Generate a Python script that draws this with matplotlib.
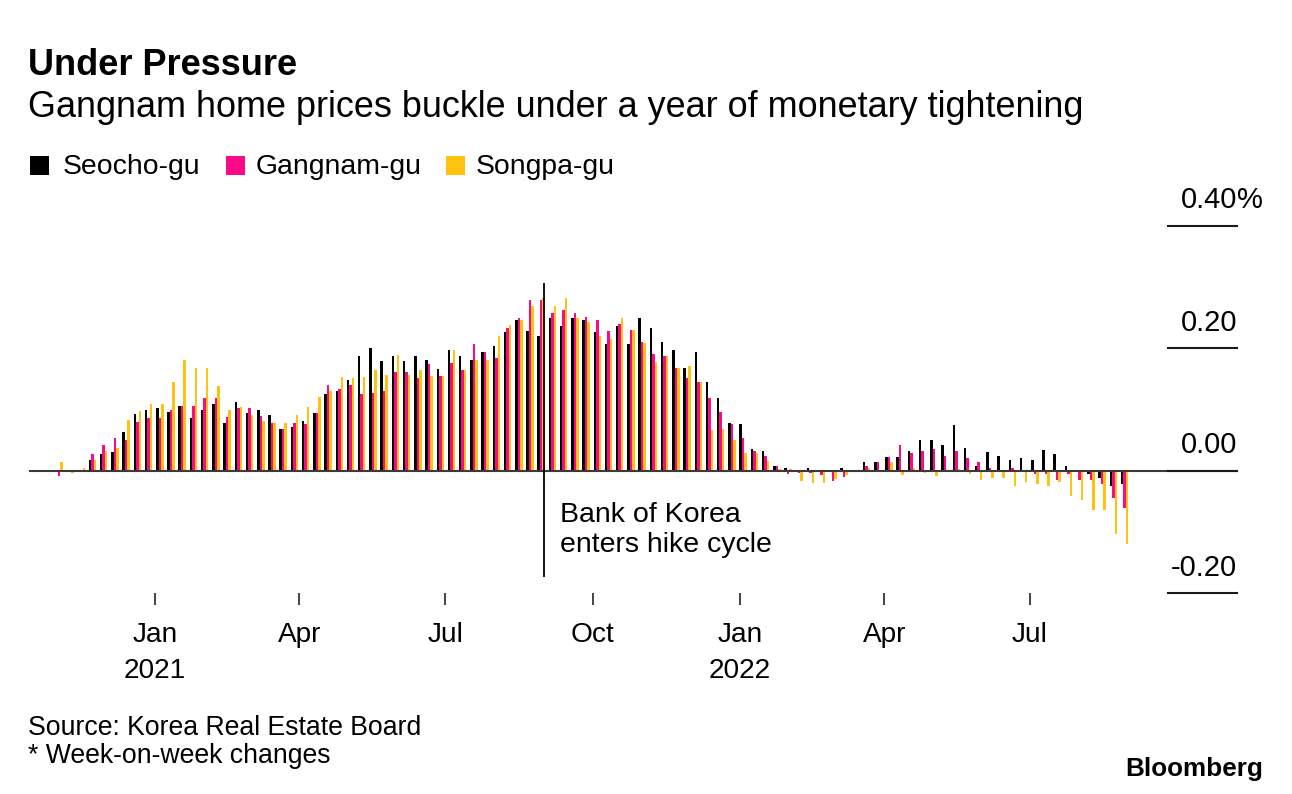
import matplotlib
matplotlib.use("Agg")
import matplotlib.pyplot as plt
import matplotlib.dates as mdates
import matplotlib.transforms as mtransforms
from matplotlib.patches import Rectangle
import pandas as pd
import datetime as dt

# ---------------- data ----------------
week_start = "2020-11-02"
n_weeks = 96

seocho = [0.000, 0.002, 0.002, 0.018, 0.027, 0.031, 0.063, 0.093, 0.099, 0.103,
          0.096, 0.106, 0.086, 0.099, 0.109, 0.079, 0.112, 0.095, 0.099, 0.092,
          0.069, 0.072, 0.082, 0.095, 0.125, 0.131, 0.148, 0.187, 0.200, 0.180,
          0.187, 0.180, 0.187, 0.181, 0.167, 0.197, 0.187, 0.181, 0.194, 0.204,
          0.227, 0.246, 0.229, 0.220, 0.249, 0.236, 0.249, 0.246, 0.227, 0.207,
          0.236, 0.207, 0.250, 0.233, 0.210, 0.197, 0.168, 0.194, 0.145, 0.119,
          0.079, 0.076, 0.036, 0.033, 0.008, 0.004, 0.001, 0.005, -0.002, -0.002,
          0.005, 0.001, 0.015, 0.015, 0.022, 0.022, 0.032, 0.051, 0.051, 0.042,
          0.075, 0.037, 0.008, 0.031, 0.024, 0.018, 0.021, 0.018, 0.034, 0.027,
          0.008, 0.001, -0.005, -0.012, -0.025, -0.021]

gangnam = [-0.008, 0.002, 0.002, 0.027, 0.043, 0.053, 0.050, 0.080, 0.086, 0.086,
           0.099, 0.106, 0.106, 0.119, 0.119, 0.088, 0.102, 0.102, 0.089, 0.079,
           0.069, 0.079, 0.076, 0.095, 0.141, 0.134, 0.141, 0.125, 0.128, 0.131,
           0.161, 0.161, 0.151, 0.174, 0.155, 0.177, 0.164, 0.207, 0.194, 0.184,
           0.233, 0.249, 0.279, 0.279, 0.258, 0.262, 0.258, 0.252, 0.246, 0.229,
           0.240, 0.230, 0.211, 0.191, 0.187, 0.168, 0.151, 0.145, 0.119, 0.096,
           0.076, 0.053, 0.033, 0.024, 0.008, -0.005, -0.004, -0.004, -0.007, -0.016,
           -0.010, 0.001, 0.008, 0.015, 0.022, 0.042, 0.029, 0.032, 0.035, 0.025,
           0.032, 0.021, 0.014, 0.004, 0.001, 0.004, 0.001, -0.005, -0.005, -0.015,
           -0.005, -0.015, -0.015, -0.021, -0.045, -0.061]

songpa = [0.014, -0.004, 0.005, 0.018, 0.033, 0.038, 0.083, 0.097, 0.109, 0.109,
          0.145, 0.181, 0.168, 0.168, 0.138, 0.100, 0.105, 0.092, 0.082, 0.079,
          0.079, 0.092, 0.105, 0.121, 0.131, 0.154, 0.151, 0.154, 0.164, 0.157,
          0.190, 0.157, 0.164, 0.155, 0.155, 0.197, 0.164, 0.181, 0.181, 0.220,
          0.239, 0.246, 0.269, 0.282, 0.269, 0.282, 0.249, 0.243, 0.220, 0.216,
          0.249, 0.230, 0.209, 0.178, 0.187, 0.168, 0.171, 0.145, 0.066, 0.069,
          0.050, 0.030, 0.030, 0.016, 0.003, 0.003, -0.017, -0.020, -0.020, -0.013,
          -0.007, 0.000, 0.004, -0.002, 0.015, -0.007, 0.004, -0.004, -0.008, -0.002,
          0.003, -0.005, -0.015, -0.012, -0.012, -0.025, -0.018, -0.021, -0.025, -0.018,
          -0.041, -0.048, -0.064, -0.064, -0.103, -0.120]

series_names = ["Seocho-gu", "Gangnam-gu", "Songpa-gu"]
series_colors = ["#000000", "#fb0a87", "#ffc20e"]

ytick_values = [0.40, 0.20, 0.00, -0.20]
ytick_labels = ["0.40", "0.20", "0.00", "-0.20"]

xtick_dates = ["2021-01-01", "2021-04-01", "2021-07-01", "2021-10-01",
               "2022-01-01", "2022-04-01", "2022-07-01"]
xtick_months = ["Jan", "Apr", "Jul", "Oct", "Jan", "Apr", "Jul"]
xtick_years = ["2021", "", "", "", "2022", "", ""]

annot_date = "2021-09-01"
annot_range = (-0.174, 0.307)
annot_lines = ["Bank of Korea", "enters hike cycle"]

title = "Under Pressure"
subtitle = "Gangnam home prices buckle under a year of monetary tightening"
source_lines = ["Source: Korea Real Estate Board", "* Week-on-week changes"]

# ---------------- layout helpers ----------------
W, H = 1292, 794
FONT = "Liberation Sans"
plt.rcParams["font.family"] = [FONT, "DejaVu Sans"]

fig = plt.figure(figsize=(W / 100, H / 100), dpi=100)
fig.patch.set_facecolor("white")


def fx(px):
    return px / W


def fy(py):
    return 1 - py / H


def ftext(px, py, s, size, weight="normal", ha="left", color="#000000"):
    fig.text(fx(px), fy(py), s, fontsize=size, fontweight=weight, ha=ha,
             va="baseline", color=color, family=[FONT, "DejaVu Sans"])


# axes: x from 30 to 1237 px, y from 226 (0.40) to 593.3 (-0.20)
ax_left, ax_right, ax_top, ax_bot = 29, 1237, 226, 593.3
ax = fig.add_axes([fx(ax_left), fy(ax_bot), (ax_right - ax_left) / W, (ax_bot - ax_top) / H])
ax.set_facecolor("none")

px_per_day = (1030 - 155) / 546.0
d_ref = mdates.date2num(dt.datetime(2021, 1, 1))
ax.set_xlim(d_ref + (ax_left - 155) / px_per_day, d_ref + (ax_right - 155) / px_per_day)
ax.set_ylim(-0.20, 0.40)

dates = pd.date_range(week_start, periods=n_weeks, freq="7D")
xnum = mdates.date2num(dates.to_pydatetime())
bar_w = 2.5 / px_per_day
offsets = [-bar_w, 0.0, bar_w]
for vals, col, off in zip([seocho, gangnam, songpa], series_colors, offsets):
    ax.bar(xnum + off, vals, width=bar_w, color=col, linewidth=0, zorder=2)

# zero line and right-hand tick segments
ax.axhline(0, color="#3a3a3a", lw=1.5, zorder=3)
seg_start = (1168 - ax_left) / (ax_right - ax_left)
for v in ytick_values:
    ax.axhline(v, xmin=seg_start, xmax=1.0, color="#1a1a1a", lw=1.5, zorder=4,
               clip_on=False)

# annotation line
a_x = mdates.date2num(dt.datetime.fromisoformat(annot_date))
ax.plot([a_x, a_x], list(annot_range), color="#000000", lw=1.3, zorder=5,
        solid_capstyle="butt")

for sp in ax.spines.values():
    sp.set_visible(False)
ax.set_yticks([])
xt = [mdates.date2num(dt.datetime.fromisoformat(d)) for d in xtick_dates]
ax.set_xticks(xt)
ax.set_xticklabels([""] * len(xt))
ax.tick_params(axis="x", length=8.6, width=1.1, color="#111111", direction="out")

# x labels
blend = mtransforms.blended_transform_factory(ax.transData, fig.transFigure)
for x, m, y in zip(xt, xtick_months, xtick_years):
    ax.text(x, fy(642), m, transform=blend, ha="center", va="baseline",
            fontsize=20.2, color="#000000")
    if y:
        ax.text(x, fy(678), y, transform=blend, ha="center", va="baseline",
                fontsize=20.2, color="#000000")

# right y labels
for v, lab in zip(ytick_values, ytick_labels):
    ypx = ax_top + (0.40 - v) / 0.60 * (ax_bot - ax_top)
    ftext(ax_right, ypx - 17.5, lab, 21, ha="right")
ftext(ax_right, ax_top - 17.5, "%", 21, ha="left")

# annotation text
ftext(560, 522, annot_lines[0], 20.5)
ftext(560, 552, annot_lines[1], 20.5)

# title / subtitle
ftext(28, 75, title, 26, weight="bold")
ftext(28, 117, subtitle, 25.9)

# legend
leg_sq = [30, 226, 446]
leg_tx = [63, 256, 476]
for sx, tx, name, col in zip(leg_sq, leg_tx, series_names, series_colors):
    fig.patches.append(Rectangle((fx(sx), fy(175)), 19 / W, 19 / H,
                                 transform=fig.transFigure, color=col, lw=0))
    ftext(tx, 174, name, 20.4)

# footer
ftext(28, 735, source_lines[0], 19.2)
ftext(28, 763, source_lines[1], 19.2)
ftext(1263, 776, "Bloomberg", 18.8, weight="bold", ha="right")

fig.savefig("out.png", dpi=100, facecolor="white")
